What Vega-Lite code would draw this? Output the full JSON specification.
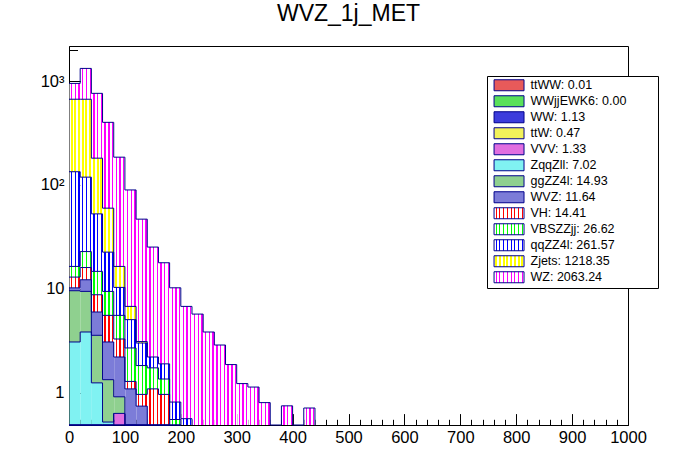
{
  "$schema": "https://vega.github.io/schema/vega-lite/v6.json",
  "width": 559,
  "height": 379,
  "autosize": "none",
  "padding": {"left": 69, "top": 46, "right": 68, "bottom": 47},
  "background": "white",
  "title": {
    "text": "WVZ_1j_MET",
    "font": "Liberation Sans",
    "fontSize": 23,
    "fontWeight": "normal",
    "color": "black",
    "anchor": "middle",
    "frame": "group",
    "baseline": "alphabetic",
    "offset": 18,
    "dy": 16
  },
  "config": {
    "view": {"stroke": "black", "strokeWidth": 1},
    "font": "Liberation Sans",
    "axis": {
      "labelFont": "Liberation Sans",
      "labelFontSize": 16.5,
      "labelColor": "black",
      "tickColor": "black",
      "tickWidth": 1,
      "domainColor": "black",
      "grid": false,
      "title": null
    }
  },
  "datasets": {
    "samples": [
      {"sample": "ttWW", "idx": 1, "total": "0.01"},
      {"sample": "WWjjEWK6", "idx": 2, "total": "0.00"},
      {"sample": "WW", "idx": 3, "total": "1.13"},
      {"sample": "ttW", "idx": 4, "total": "0.47"},
      {"sample": "VVV", "idx": 5, "total": "1.33"},
      {"sample": "ZqqZll", "idx": 6, "total": "7.02"},
      {"sample": "ggZZ4l", "idx": 7, "total": "14.93"},
      {"sample": "WVZ", "idx": 8, "total": "11.64"},
      {"sample": "VH", "idx": 9, "total": "14.41"},
      {"sample": "VBSZZjj", "idx": 10, "total": "26.62"},
      {"sample": "qqZZ4l", "idx": 11, "total": "261.57"},
      {"sample": "Zjets", "idx": 12, "total": "1218.35"},
      {"sample": "WZ", "idx": 13, "total": "2063.24"}
    ],
    "yields": [
      {"sample": "WW", "bin": 0, "value": 0.1},
      {"sample": "ttW", "bin": 0, "value": 0.05},
      {"sample": "VVV", "bin": 0, "value": 0.1},
      {"sample": "ZqqZll", "bin": 0, "value": 2.82},
      {"sample": "ggZZ4l", "bin": 0, "value": 6.5},
      {"sample": "WVZ", "bin": 0, "value": 0.63},
      {"sample": "VH", "bin": 0, "value": 2.75},
      {"sample": "VBSZZjj", "bin": 0, "value": 3.45},
      {"sample": "qqZZ4l", "bin": 0, "value": 117.6},
      {"sample": "Zjets", "bin": 0, "value": 535},
      {"sample": "WZ", "bin": 0, "value": 281},

      {"sample": "WWjjEWK6", "bin": 20, "value": 0.002},
      {"sample": "WW", "bin": 20, "value": 0.2},
      {"sample": "ttW", "bin": 20, "value": 0.08},
      {"sample": "VVV", "bin": 20, "value": 0.12},
      {"sample": "ZqqZll", "bin": 20, "value": 3.43},
      {"sample": "ggZZ4l", "bin": 20, "value": 5.6},
      {"sample": "WVZ", "bin": 20, "value": 2.77},
      {"sample": "VH", "bin": 20, "value": 3.8},
      {"sample": "VBSZZjj", "bin": 20, "value": 6.8},
      {"sample": "qqZZ4l", "bin": 20, "value": 96},
      {"sample": "Zjets", "bin": 20, "value": 550},
      {"sample": "WZ", "bin": 20, "value": 656},

      {"sample": "ttWW", "bin": 40, "value": 0.01},
      {"sample": "WW", "bin": 40, "value": 0.2},
      {"sample": "ttW", "bin": 40, "value": 0.08},
      {"sample": "VVV", "bin": 40, "value": 0.1},
      {"sample": "ZqqZll", "bin": 40, "value": 0.85},
      {"sample": "ggZZ4l", "bin": 40, "value": 2.32},
      {"sample": "WVZ", "bin": 40, "value": 2.41},
      {"sample": "VH", "bin": 40, "value": 2.78},
      {"sample": "VBSZZjj", "bin": 40, "value": 5.95},
      {"sample": "qqZZ4l", "bin": 40, "value": 37.9},
      {"sample": "Zjets", "bin": 40, "value": 128.4},
      {"sample": "WZ", "bin": 40, "value": 581},

      {"sample": "WW", "bin": 60, "value": 0.15},
      {"sample": "ttW", "bin": 60, "value": 0.07},
      {"sample": "VVV", "bin": 60, "value": 0.1},
      {"sample": "ZqqZll", "bin": 60, "value": 0.2},
      {"sample": "ggZZ4l", "bin": 60, "value": 0.81},
      {"sample": "WVZ", "bin": 60, "value": 1.74},
      {"sample": "VH", "bin": 60, "value": 2.47},
      {"sample": "VBSZZjj", "bin": 60, "value": 3.88},
      {"sample": "qqZZ4l", "bin": 60, "value": 13.1},
      {"sample": "Zjets", "bin": 60, "value": 37.2},
      {"sample": "WZ", "bin": 60, "value": 341},

      {"sample": "WW", "bin": 80, "value": 0.12},
      {"sample": "ttW", "bin": 80, "value": 0.06},
      {"sample": "VVV", "bin": 80, "value": 0.45},
      {"sample": "ZqqZll", "bin": 80, "value": 0},
      {"sample": "ggZZ4l", "bin": 80, "value": 0.28},
      {"sample": "WVZ", "bin": 80, "value": 1.29},
      {"sample": "VH", "bin": 80, "value": 1.08},
      {"sample": "VBSZZjj", "bin": 80, "value": 2.26},
      {"sample": "qqZZ4l", "bin": 80, "value": 4.76},
      {"sample": "Zjets", "bin": 80, "value": 6.1},
      {"sample": "WZ", "bin": 80, "value": 168.6},

      {"sample": "WW", "bin": 100, "value": 0.1},
      {"sample": "ttW", "bin": 100, "value": 0.05},
      {"sample": "VVV", "bin": 100, "value": 0.15},
      {"sample": "ggZZ4l", "bin": 100, "value": 0.1},
      {"sample": "WVZ", "bin": 100, "value": 0.685},
      {"sample": "VH", "bin": 100, "value": 0.195},
      {"sample": "VBSZZjj", "bin": 100, "value": 1.41},
      {"sample": "qqZZ4l", "bin": 100, "value": 2.35},
      {"sample": "Zjets", "bin": 100, "value": 1.72},
      {"sample": "WZ", "bin": 100, "value": 82.7},

      {"sample": "WW", "bin": 120, "value": 0.08},
      {"sample": "ttW", "bin": 120, "value": 0.04},
      {"sample": "VVV", "bin": 120, "value": 0.12},
      {"sample": "ggZZ4l", "bin": 120, "value": 0},
      {"sample": "WVZ", "bin": 120, "value": 0.5},
      {"sample": "VH", "bin": 120, "value": 0.22},
      {"sample": "VBSZZjj", "bin": 120, "value": 0.86},
      {"sample": "qqZZ4l", "bin": 120, "value": 1.18},
      {"sample": "Zjets", "bin": 120, "value": 0.1},
      {"sample": "WZ", "bin": 120, "value": 43.7},

      {"sample": "WW", "bin": 140, "value": 0.06},
      {"sample": "ttW", "bin": 140, "value": 0.04},
      {"sample": "VVV", "bin": 140, "value": 0.06},
      {"sample": "WVZ", "bin": 140, "value": 0.23},
      {"sample": "VH", "bin": 140, "value": 0.695},
      {"sample": "VBSZZjj", "bin": 140, "value": 0.645},
      {"sample": "qqZZ4l", "bin": 140, "value": 0.47},
      {"sample": "Zjets", "bin": 140, "value": 0},
      {"sample": "WZ", "bin": 140, "value": 23},

      {"sample": "WW", "bin": 160, "value": 0.05},
      {"sample": "VVV", "bin": 160, "value": 0.08},
      {"sample": "WVZ", "bin": 160, "value": 0.2},
      {"sample": "VH", "bin": 160, "value": 0.63},
      {"sample": "VBSZZjj", "bin": 160, "value": 0.39},
      {"sample": "qqZZ4l", "bin": 160, "value": 0.54},
      {"sample": "WZ", "bin": 160, "value": 15.9},

      {"sample": "WW", "bin": 180, "value": 0.04},
      {"sample": "VVV", "bin": 180, "value": 0.05},
      {"sample": "WVZ", "bin": 180, "value": 0},
      {"sample": "VH", "bin": 180, "value": 0.3},
      {"sample": "VBSZZjj", "bin": 180, "value": 0.16},
      {"sample": "qqZZ4l", "bin": 180, "value": 0.26},
      {"sample": "WZ", "bin": 180, "value": 9.4},

      {"sample": "WW", "bin": 200, "value": 0.03},
      {"sample": "VH", "bin": 200, "value": 0},
      {"sample": "VBSZZjj", "bin": 200, "value": 0},
      {"sample": "qqZZ4l", "bin": 200, "value": 0.53},
      {"sample": "WZ", "bin": 200, "value": 6.2},

      {"sample": "qqZZ4l", "bin": 220, "value": 0},
      {"sample": "WZ", "bin": 220, "value": 5.7},
      {"sample": "WZ", "bin": 240, "value": 3.83},
      {"sample": "WZ", "bin": 260, "value": 2.87},
      {"sample": "WZ", "bin": 280, "value": 1.86},
      {"sample": "WZ", "bin": 300, "value": 1.22},
      {"sample": "WZ", "bin": 320, "value": 1.13},
      {"sample": "WZ", "bin": 340, "value": 0.8},
      {"sample": "WZ", "bin": 360, "value": 0},
      {"sample": "WZ", "bin": 380, "value": 0.745},
      {"sample": "WZ", "bin": 400, "value": 0},
      {"sample": "WZ", "bin": 420, "value": 0.71},
      {"sample": "WZ", "bin": 440, "value": 0}
    ]
  },
  "data": {"name": "yields"},
  "transform": [
    {"lookup": "sample", "from": {"data": {"name": "samples"}, "key": "sample", "fields": ["idx"]}},
    {"stack": "value", "groupby": ["bin"], "sort": [{"field": "idx", "order": "ascending"}], "as": ["lo", "hi"]}
  ],
  "layer": [
    {
      "mark": {"type": "bar", "binSpacing": 0, "stroke": "#00008b", "strokeWidth": 0},
      "encoding": {
        "x": {
          "field": "bin",
          "type": "quantitative",
          "bin": {"binned": true, "step": 20},
          "scale": {"domain": [0, 1000], "nice": false, "zero": false},
          "axis": {
            "orient": "bottom",
            "values": [0, 100, 200, 300, 400, 500, 600, 700, 800, 900, 1000],
            "format": "d",
            "tickSize": -11.4,
            "labelPadding": 15.4,
            "labelFlush": false,
            "labelOverlap": false
          }
        },
        "y": {
          "field": "hi",
          "type": "quantitative",
          "scale": {"type": "log", "domain": [0.487, 2178], "nice": false, "zero": false, "clamp": true},
          "axis": {
            "orient": "left",
            "values": [1, 10, 100, 1000],
            "labelExpr": "datum.value >= 1000 ? '10³' : datum.value >= 100 ? '10²' : datum.value >= 10 ? '10' : '1'",
            "tickSize": -17,
            "labelPadding": 22,
            "labelFlush": false,
            "labelOverlap": false
          }
        },
        "y2": {"field": "lo"},
        "color": {
          "field": "sample",
          "type": "nominal",
          "condition": [
            {"test": "datum.sample === 'VH'", "value": {"gradient": "linear", "x1": 0, "y1": 0, "x2": 1, "y2": 0, "stops": [
              {"offset": 0, "color": "white"}, {"offset": 0.13, "color": "white"}, {"offset": 0.13, "color": "#ff0000"}, {"offset": 0.25, "color": "#ff0000"}, {"offset": 0.25, "color": "white"},
              {"offset": 0.46, "color": "white"}, {"offset": 0.46, "color": "#ff0000"}, {"offset": 0.58, "color": "#ff0000"}, {"offset": 0.58, "color": "white"},
              {"offset": 0.79, "color": "white"}, {"offset": 0.79, "color": "#ff0000"}, {"offset": 0.91, "color": "#ff0000"}, {"offset": 0.91, "color": "white"}, {"offset": 1, "color": "white"}]}},
            {"test": "datum.sample === 'VBSZZjj'", "value": {"gradient": "linear", "x1": 0, "y1": 0, "x2": 1, "y2": 0, "stops": [
              {"offset": 0, "color": "white"}, {"offset": 0.13, "color": "white"}, {"offset": 0.13, "color": "#00ff00"}, {"offset": 0.25, "color": "#00ff00"}, {"offset": 0.25, "color": "white"},
              {"offset": 0.46, "color": "white"}, {"offset": 0.46, "color": "#00ff00"}, {"offset": 0.58, "color": "#00ff00"}, {"offset": 0.58, "color": "white"},
              {"offset": 0.79, "color": "white"}, {"offset": 0.79, "color": "#00ff00"}, {"offset": 0.91, "color": "#00ff00"}, {"offset": 0.91, "color": "white"}, {"offset": 1, "color": "white"}]}},
            {"test": "datum.sample === 'qqZZ4l'", "value": {"gradient": "linear", "x1": 0, "y1": 0, "x2": 1, "y2": 0, "stops": [
              {"offset": 0, "color": "white"}, {"offset": 0.13, "color": "white"}, {"offset": 0.13, "color": "#0000ff"}, {"offset": 0.25, "color": "#0000ff"}, {"offset": 0.25, "color": "white"},
              {"offset": 0.46, "color": "white"}, {"offset": 0.46, "color": "#0000ff"}, {"offset": 0.58, "color": "#0000ff"}, {"offset": 0.58, "color": "white"},
              {"offset": 0.79, "color": "white"}, {"offset": 0.79, "color": "#0000ff"}, {"offset": 0.91, "color": "#0000ff"}, {"offset": 0.91, "color": "white"}, {"offset": 1, "color": "white"}]}},
            {"test": "datum.sample === 'Zjets'", "value": {"gradient": "linear", "x1": 0, "y1": 0, "x2": 1, "y2": 0, "stops": [
              {"offset": 0, "color": "white"}, {"offset": 0.1, "color": "white"}, {"offset": 0.1, "color": "#ffff00"}, {"offset": 0.28, "color": "#ffff00"}, {"offset": 0.28, "color": "white"},
              {"offset": 0.43, "color": "white"}, {"offset": 0.43, "color": "#ffff00"}, {"offset": 0.61, "color": "#ffff00"}, {"offset": 0.61, "color": "white"},
              {"offset": 0.76, "color": "white"}, {"offset": 0.76, "color": "#ffff00"}, {"offset": 0.94, "color": "#ffff00"}, {"offset": 0.94, "color": "white"}, {"offset": 1, "color": "white"}]}},
            {"test": "datum.sample === 'WZ'", "value": {"gradient": "linear", "x1": 0, "y1": 0, "x2": 1, "y2": 0, "stops": [
              {"offset": 0, "color": "white"}, {"offset": 0.13, "color": "white"}, {"offset": 0.13, "color": "#ff00ff"}, {"offset": 0.25, "color": "#ff00ff"}, {"offset": 0.25, "color": "white"},
              {"offset": 0.46, "color": "white"}, {"offset": 0.46, "color": "#ff00ff"}, {"offset": 0.58, "color": "#ff00ff"}, {"offset": 0.58, "color": "white"},
              {"offset": 0.79, "color": "white"}, {"offset": 0.79, "color": "#ff00ff"}, {"offset": 0.91, "color": "#ff00ff"}, {"offset": 0.91, "color": "white"}, {"offset": 1, "color": "white"}]}}
          ],
          "scale": {
            "domain": ["ttWW", "WWjjEWK6", "WW", "ttW", "VVV", "ZqqZll", "ggZZ4l", "WVZ", "VH", "VBSZZjj", "qqZZ4l", "Zjets", "WZ"],
            "range": [
              "#e85a5a", "#5ae05a", "#3c3cdc", "#f2f25a", "#e06ee0", "#80f2f2", "#8fd08f", "#7c7cd8",
              {"expr": "{'gradient': 'linear', 'x1': 0, 'y1': 0, 'x2': 1, 'y2': 0, 'stops': [{'offset': 0, 'color': 'white'}, {'offset': 0.05, 'color': 'white'}, {'offset': 0.05, 'color': '#ff0000'}, {'offset': 0.09, 'color': '#ff0000'}, {'offset': 0.09, 'color': 'white'}, {'offset': 0.175, 'color': 'white'}, {'offset': 0.175, 'color': '#ff0000'}, {'offset': 0.215, 'color': '#ff0000'}, {'offset': 0.215, 'color': 'white'}, {'offset': 0.3, 'color': 'white'}, {'offset': 0.3, 'color': '#ff0000'}, {'offset': 0.34, 'color': '#ff0000'}, {'offset': 0.34, 'color': 'white'}, {'offset': 0.425, 'color': 'white'}, {'offset': 0.425, 'color': '#ff0000'}, {'offset': 0.465, 'color': '#ff0000'}, {'offset': 0.465, 'color': 'white'}, {'offset': 0.55, 'color': 'white'}, {'offset': 0.55, 'color': '#ff0000'}, {'offset': 0.59, 'color': '#ff0000'}, {'offset': 0.59, 'color': 'white'}, {'offset': 0.675, 'color': 'white'}, {'offset': 0.675, 'color': '#ff0000'}, {'offset': 0.715, 'color': '#ff0000'}, {'offset': 0.715, 'color': 'white'}, {'offset': 0.8, 'color': 'white'}, {'offset': 0.8, 'color': '#ff0000'}, {'offset': 0.84, 'color': '#ff0000'}, {'offset': 0.84, 'color': 'white'}, {'offset': 0.925, 'color': 'white'}, {'offset': 0.925, 'color': '#ff0000'}, {'offset': 0.965, 'color': '#ff0000'}, {'offset': 0.965, 'color': 'white'}, {'offset': 1, 'color': 'white'}]}"},
              {"expr": "{'gradient': 'linear', 'x1': 0, 'y1': 0, 'x2': 1, 'y2': 0, 'stops': [{'offset': 0, 'color': 'white'}, {'offset': 0.05, 'color': 'white'}, {'offset': 0.05, 'color': '#00ff00'}, {'offset': 0.09, 'color': '#00ff00'}, {'offset': 0.09, 'color': 'white'}, {'offset': 0.175, 'color': 'white'}, {'offset': 0.175, 'color': '#00ff00'}, {'offset': 0.215, 'color': '#00ff00'}, {'offset': 0.215, 'color': 'white'}, {'offset': 0.3, 'color': 'white'}, {'offset': 0.3, 'color': '#00ff00'}, {'offset': 0.34, 'color': '#00ff00'}, {'offset': 0.34, 'color': 'white'}, {'offset': 0.425, 'color': 'white'}, {'offset': 0.425, 'color': '#00ff00'}, {'offset': 0.465, 'color': '#00ff00'}, {'offset': 0.465, 'color': 'white'}, {'offset': 0.55, 'color': 'white'}, {'offset': 0.55, 'color': '#00ff00'}, {'offset': 0.59, 'color': '#00ff00'}, {'offset': 0.59, 'color': 'white'}, {'offset': 0.675, 'color': 'white'}, {'offset': 0.675, 'color': '#00ff00'}, {'offset': 0.715, 'color': '#00ff00'}, {'offset': 0.715, 'color': 'white'}, {'offset': 0.8, 'color': 'white'}, {'offset': 0.8, 'color': '#00ff00'}, {'offset': 0.84, 'color': '#00ff00'}, {'offset': 0.84, 'color': 'white'}, {'offset': 0.925, 'color': 'white'}, {'offset': 0.925, 'color': '#00ff00'}, {'offset': 0.965, 'color': '#00ff00'}, {'offset': 0.965, 'color': 'white'}, {'offset': 1, 'color': 'white'}]}"},
              {"expr": "{'gradient': 'linear', 'x1': 0, 'y1': 0, 'x2': 1, 'y2': 0, 'stops': [{'offset': 0, 'color': 'white'}, {'offset': 0.05, 'color': 'white'}, {'offset': 0.05, 'color': '#0000ff'}, {'offset': 0.09, 'color': '#0000ff'}, {'offset': 0.09, 'color': 'white'}, {'offset': 0.175, 'color': 'white'}, {'offset': 0.175, 'color': '#0000ff'}, {'offset': 0.215, 'color': '#0000ff'}, {'offset': 0.215, 'color': 'white'}, {'offset': 0.3, 'color': 'white'}, {'offset': 0.3, 'color': '#0000ff'}, {'offset': 0.34, 'color': '#0000ff'}, {'offset': 0.34, 'color': 'white'}, {'offset': 0.425, 'color': 'white'}, {'offset': 0.425, 'color': '#0000ff'}, {'offset': 0.465, 'color': '#0000ff'}, {'offset': 0.465, 'color': 'white'}, {'offset': 0.55, 'color': 'white'}, {'offset': 0.55, 'color': '#0000ff'}, {'offset': 0.59, 'color': '#0000ff'}, {'offset': 0.59, 'color': 'white'}, {'offset': 0.675, 'color': 'white'}, {'offset': 0.675, 'color': '#0000ff'}, {'offset': 0.715, 'color': '#0000ff'}, {'offset': 0.715, 'color': 'white'}, {'offset': 0.8, 'color': 'white'}, {'offset': 0.8, 'color': '#0000ff'}, {'offset': 0.84, 'color': '#0000ff'}, {'offset': 0.84, 'color': 'white'}, {'offset': 0.925, 'color': 'white'}, {'offset': 0.925, 'color': '#0000ff'}, {'offset': 0.965, 'color': '#0000ff'}, {'offset': 0.965, 'color': 'white'}, {'offset': 1, 'color': 'white'}]}"},
              {"expr": "{'gradient': 'linear', 'x1': 0, 'y1': 0, 'x2': 1, 'y2': 0, 'stops': [{'offset': 0, 'color': 'white'}, {'offset': 0.04, 'color': 'white'}, {'offset': 0.04, 'color': '#ffff00'}, {'offset': 0.1, 'color': '#ffff00'}, {'offset': 0.1, 'color': 'white'}, {'offset': 0.165, 'color': 'white'}, {'offset': 0.165, 'color': '#ffff00'}, {'offset': 0.225, 'color': '#ffff00'}, {'offset': 0.225, 'color': 'white'}, {'offset': 0.29, 'color': 'white'}, {'offset': 0.29, 'color': '#ffff00'}, {'offset': 0.35, 'color': '#ffff00'}, {'offset': 0.35, 'color': 'white'}, {'offset': 0.415, 'color': 'white'}, {'offset': 0.415, 'color': '#ffff00'}, {'offset': 0.475, 'color': '#ffff00'}, {'offset': 0.475, 'color': 'white'}, {'offset': 0.54, 'color': 'white'}, {'offset': 0.54, 'color': '#ffff00'}, {'offset': 0.6, 'color': '#ffff00'}, {'offset': 0.6, 'color': 'white'}, {'offset': 0.665, 'color': 'white'}, {'offset': 0.665, 'color': '#ffff00'}, {'offset': 0.725, 'color': '#ffff00'}, {'offset': 0.725, 'color': 'white'}, {'offset': 0.79, 'color': 'white'}, {'offset': 0.79, 'color': '#ffff00'}, {'offset': 0.85, 'color': '#ffff00'}, {'offset': 0.85, 'color': 'white'}, {'offset': 0.915, 'color': 'white'}, {'offset': 0.915, 'color': '#ffff00'}, {'offset': 0.975, 'color': '#ffff00'}, {'offset': 0.975, 'color': 'white'}, {'offset': 1, 'color': 'white'}]}"},
              {"expr": "{'gradient': 'linear', 'x1': 0, 'y1': 0, 'x2': 1, 'y2': 0, 'stops': [{'offset': 0, 'color': 'white'}, {'offset': 0.05, 'color': 'white'}, {'offset': 0.05, 'color': '#ff00ff'}, {'offset': 0.09, 'color': '#ff00ff'}, {'offset': 0.09, 'color': 'white'}, {'offset': 0.175, 'color': 'white'}, {'offset': 0.175, 'color': '#ff00ff'}, {'offset': 0.215, 'color': '#ff00ff'}, {'offset': 0.215, 'color': 'white'}, {'offset': 0.3, 'color': 'white'}, {'offset': 0.3, 'color': '#ff00ff'}, {'offset': 0.34, 'color': '#ff00ff'}, {'offset': 0.34, 'color': 'white'}, {'offset': 0.425, 'color': 'white'}, {'offset': 0.425, 'color': '#ff00ff'}, {'offset': 0.465, 'color': '#ff00ff'}, {'offset': 0.465, 'color': 'white'}, {'offset': 0.55, 'color': 'white'}, {'offset': 0.55, 'color': '#ff00ff'}, {'offset': 0.59, 'color': '#ff00ff'}, {'offset': 0.59, 'color': 'white'}, {'offset': 0.675, 'color': 'white'}, {'offset': 0.675, 'color': '#ff00ff'}, {'offset': 0.715, 'color': '#ff00ff'}, {'offset': 0.715, 'color': 'white'}, {'offset': 0.8, 'color': 'white'}, {'offset': 0.8, 'color': '#ff00ff'}, {'offset': 0.84, 'color': '#ff00ff'}, {'offset': 0.84, 'color': 'white'}, {'offset': 0.925, 'color': 'white'}, {'offset': 0.925, 'color': '#ff00ff'}, {'offset': 0.965, 'color': '#ff00ff'}, {'offset': 0.965, 'color': 'white'}, {'offset': 1, 'color': 'white'}]}"}
            ]
          },
          "legend": {
            "title": null,
            "orient": "none",
            "legendX": 418,
            "legendY": 30,
            "fillColor": "white",
            "strokeColor": "black",
            "padding": 3,
            "rowPadding": 0,
            "symbolType": "M-0.4,-1H5.05V1H-0.4Z",
            "symbolSize": 121,
            "symbolStrokeColor": "#00008b",
            "symbolStrokeWidth": 1,
            "labelOffset": 28,
            "labelFont": "Liberation Sans",
            "labelFontSize": 12.5,
            "labelColor": "black",
            "labelLimit": 0,
            "symbolLimit": 0,
            "labelExpr": "{'ttWW': 'ttWW: 0.01', 'WWjjEWK6': 'WWjjEWK6: 0.00', 'WW': 'WW: 1.13', 'ttW': 'ttW: 0.47', 'VVV': 'VVV: 1.33', 'ZqqZll': 'ZqqZll: 7.02', 'ggZZ4l': 'ggZZ4l: 14.93', 'WVZ': 'WVZ: 11.64', 'VH': 'VH: 14.41', 'VBSZZjj': 'VBSZZjj: 26.62', 'qqZZ4l': 'qqZZ4l: 261.57', 'Zjets': 'Zjets: 1218.35', 'WZ': 'WZ: 2063.24'}[datum.label] + '        \u200b'"
          }
        }
      }
    },
    {
      "mark": {"type": "line", "interpolate": "step-after", "stroke": "#00008b", "strokeWidth": 1, "invalid": "show"},
      "encoding": {
        "x": {
          "field": "bin",
          "type": "quantitative",
          "scale": {"domain": [0, 1000], "nice": false, "zero": false},
          "axis": {
            "orient": "bottom",
            "values": [20, 40, 60, 80, 120, 140, 160, 180, 220, 240, 260, 280, 320, 340, 360, 380, 420, 440, 460, 480, 520, 540, 560, 580, 620, 640, 660, 680, 720, 740, 760, 780, 820, 840, 860, 880, 920, 940, 960, 980],
            "tickSize": -5.7,
            "labels": false,
            "domain": false
          }
        },
        "y": {
          "field": "hi",
          "type": "quantitative",
          "scale": {"type": "log", "domain": [0.487, 2178], "nice": false, "zero": false, "clamp": true},
          "axis": {
            "orient": "left",
            "values": [0.5, 0.6, 0.7, 0.8, 0.9, 2, 3, 4, 5, 6, 7, 8, 9, 20, 30, 40, 50, 60, 70, 80, 90, 200, 300, 400, 500, 600, 700, 800, 900, 2000],
            "tickSize": -8.5,
            "labels": false,
            "domain": false
          }
        },
        "detail": {"field": "sample", "type": "nominal"}
      }
    }
  ],
  "resolve": {"axis": {"x": "independent", "y": "independent"}}
}
